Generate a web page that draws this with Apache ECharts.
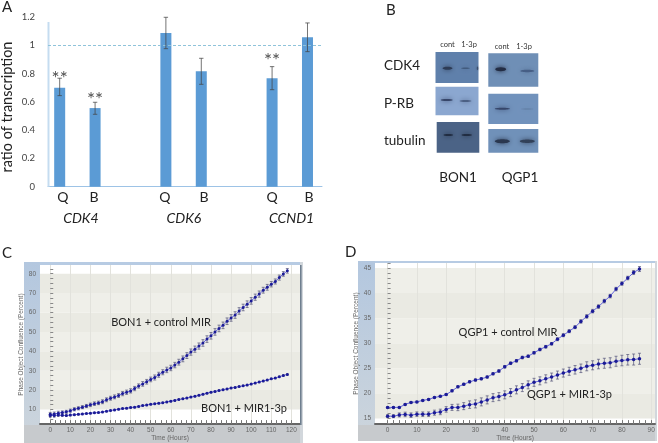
<!DOCTYPE html>
<html><head><meta charset="utf-8">
<style>html,body{margin:0;padding:0;background:#fff}#c{width:658px;height:443px}</style>
<script src="https://cdn.jsdelivr.net/npm/echarts@6/dist/echarts.min.js"></script>
</head><body><div id="c"></div>
<script>
// Panel A data
const slotsA = [0, 1, 3, 4, 6, 7];
const ratioA = [0.70, 0.556, 1.087, 0.816, 0.767, 1.056];
const lowA = [0.644, 0.512, 0.976, 0.724, 0.686, 0.955];
const highA = [0.767, 0.597, 1.198, 0.908, 0.849, 1.158];
const cellLabels = ['Q', 'B', 'Q', 'B', 'Q', 'B'];
const cellLabelSlots = [0.09, 0.97, 2.97, 4.08, 6, 7.04];
const geneLabels = ['CDK4', 'CDK6', 'CCND1'];
const geneSlots = [0.6, 3.51, 6.55];
const starSlots = [0, 1, 6];
const starLevels = [0.79, 0.644, 0.92];
const ticksA = [0, 0.2, 0.4, 0.6, 0.8, 1, 1.2];

// Panel C data (every 2 h, 0..118)
const bonControl = [7.5,7.7,8.1,8.5,8.8,9.4,10.1,10.6,11.2,11.8,12.4,13,13.4,14,15,15.8,16.5,17.2,18.2,18.9,19.6,20.8,22.1,23.2,24.3,25.5,26.5,27.9,29.2,30.4,31.4,32.9,34.4,36.1,37.8,39.6,41.1,42.7,44.3,46.3,48,50,51.8,53.4,55.5,57.2,58.7,60.8,62.6,64.3,66,67.9,69.5,71.5,73,74.6,76,78,79.9,81.5];
const bonControlErr = [1,1,1,0.8,0.8,0.8,0.8,0.8,0.8,0.8,0.9,0.9,0.9,1,1,1,1,1,1.1,1.1,1.1,1.1,1.1,1.2,1.2,1.2,1.3,1.3,1.3,1.4,1.4,1.4,1.5,1.5,1.5,1.6,1.6,1.6,1.7,1.7,1.7,1.7,1.7,1.7,1.7,1.7,1.7,1.7,1.7,1.7,1.7,1.6,1.6,1.5,1.5,1.4,1.3,1.3,1.2,1.2];
const bonMir = [6.9,6.9,7.1,7.0,6.9,7.1,7.3,7.5,7.7,7.9,8.1,8.3,8.4,8.7,9.1,9.5,9.8,10.1,10.5,10.7,11,11.2,11.6,12,12.3,12.7,12.9,13.2,13.5,13.9,14.3,14.7,15.2,15.5,15.9,16.4,16.8,17.3,17.8,18.4,18.9,19.3,19.8,20.2,20.6,21.1,21.4,21.8,22.2,22.6,23.1,23.6,24.2,24.7,25.2,25.8,26.2,26.9,27.5,28.1];
const bonMirErr = [1,0.9,0.7,0.5,0.4,0.4,0.4,0.4,0.3,0.3,0.3,0.3,0.3,0.3,0.3,0.3,0.3,0.3,0.3,0.3,0.3,0.3,0.3,0.3,0.3,0.3,0.3,0.3,0.3,0.3,0.3,0.3,0.3,0.3,0.3,0.3,0.3,0.3,0.3,0.3,0.3,0.3,0.3,0.3,0.3,0.3,0.3,0.3,0.3,0.3,0.3,0.3,0.3,0.3,0.3,0.3,0.3,0.3,0.4,0.4];

// Panel D data (every 2 h, 0..86)
const qgpControl = [17.2,17.2,17.2,17.8,18.2,18.3,18.6,18.8,19.2,19.4,19.75,20.5,21.3,21.8,22.3,22.65,22.9,23.25,23.9,24.45,25.3,26.0,26.5,27.15,27.4,28.1,28.75,29.3,29.9,30.8,31.6,32.4,33.2,34.35,35.35,36.4,37.3,38.4,39.4,40.8,41.9,43.0,44.1,44.8];
const qgpControlErr = [0.15,0.15,0.15,0.15,0.15,0.15,0.15,0.15,0.15,0.15,0.15,0.2,0.2,0.2,0.2,0.2,0.2,0.2,0.2,0.25,0.25,0.25,0.25,0.25,0.25,0.25,0.25,0.25,0.25,0.3,0.3,0.3,0.3,0.35,0.35,0.35,0.35,0.35,0.35,0.35,0.35,0.35,0.4,0.5];
const qgpMir = [15.45,15.45,15.7,15.8,15.65,15.85,15.85,15.85,16.15,16.3,16.8,17.2,17.2,17.45,17.75,17.9,18.3,18.7,19.15,19.35,19.7,20.15,20.7,21.15,21.7,22.2,22.5,22.9,23.25,23.65,24.05,24.4,24.7,25.0,25.4,25.6,25.85,26,26.1,26.4,26.55,26.7,26.75,26.9];
const qgpMirErr = [0.3,0.3,0.4,0.45,0.45,0.45,0.45,0.45,0.5,0.55,0.55,0.6,0.65,0.7,0.75,0.8,0.8,0.8,0.8,0.8,0.8,0.8,0.8,0.8,0.8,0.8,0.8,0.8,0.8,0.8,0.8,0.8,0.85,0.85,0.9,0.9,0.95,1,1,1,1.05,1.05,1.1,1.1];

const ticksCx = [0,10,20,30,40,50,60,70,80,90,100,110,120];
const ticksCy = [10,20,30,40,50,60,70,80];
const ticksDx = [0,10,20,30,40,50,60,70,80,90];
const ticksDy = [15,20,25,30,35,40,45];

const stepTicks = (from, to, step) => { const r = []; for (let v = from; v <= to + 1e-9; v += step) r.push(v); return r; };
const pts = (vals) => vals.map((v, i) => [i * 2, v]);
const errs = (vals, e) => vals.map((v, i) => [i * 2, v - e[i], v + e[i]]);

const BODY = 'Lato, "Open Sans", sans-serif';
const SMALL = 'Liberation Sans';

function errorSeries(xi, yi, data, color, cap, lw, z) {
  return {
    type: 'custom', xAxisIndex: xi, yAxisIndex: yi, data, z: z || 3, silent: true,
    encode: { x: 0, y: [1, 2] },
    clip: false,
    renderItem(params, api) {
      const a = api.coord([api.value(0), api.value(1)]);
      const b = api.coord([api.value(0), api.value(2)]);
      const st = { stroke: color, lineWidth: lw, fill: null };
      return { type: 'group', children: [
        { type: 'line', shape: { x1: a[0], y1: a[1], x2: b[0], y2: b[1] }, style: st },
        { type: 'line', shape: { x1: a[0] - cap, y1: a[1], x2: a[0] + cap, y2: a[1] }, style: st },
        { type: 'line', shape: { x1: b[0] - cap, y1: b[1], x2: b[0] + cap, y2: b[1] }, style: st }
      ] };
    }
  };
}
function lineSeries(xi, yi, data, size) {
  return { type: 'line', xAxisIndex: xi, yAxisIndex: yi, data, z: 4, symbol: 'circle', symbolSize: size,
    showSymbol: true, lineStyle: { color: '#6464dc', width: 1 }, itemStyle: { color: '#1b1b96' }, silent: true };
}
function minorX(grid, min, max, ticks) {
  return { gridIndex: grid, type: 'value', position: 'bottom', min, max, axisLine: { show: false }, splitLine: { show: false }, axisLabel: { show: false },
    axisTick: { show: true, inside: true, length: 4, customValues: ticks, lineStyle: { color: '#777', width: 1 } } };
}
function minorY(grid, min, max, ticks) {
  return { gridIndex: grid, type: 'value', position: 'left', min, max, axisLine: { show: false }, splitLine: { show: false }, axisLabel: { show: false },
    axisTick: { show: true, inside: true, length: 3, customValues: ticks, lineStyle: { color: '#888', width: 1 } } };
}
function majorX(grid, min, max, ticks, name, gap) {
  return { gridIndex: grid, type: 'value', position: 'bottom', min, max, name, nameLocation: 'middle', nameGap: gap,
    nameTextStyle: { fontSize: 6.5, color: '#666', fontFamily: SMALL },
    axisLine: { show: true, lineStyle: { color: '#666', width: 2 } },
    axisTick: { show: false, customValues: ticks },
    axisLabel: { customValues: ticks, fontSize: 6.5, color: '#666', margin: 3, fontFamily: SMALL },
    splitLine: { show: true, lineStyle: { color: '#e2e2dc', width: 1 } } };
}
function majorY(grid, min, max, ticks, name, gap, colors) {
  return { gridIndex: grid, type: 'value', position: 'left', min, max, name, nameLocation: 'middle', nameGap: gap,
    nameTextStyle: { fontSize: 6.5, color: '#666', fontFamily: SMALL },
    axisLine: { show: false }, axisTick: { show: false, customValues: ticks },
    axisLabel: { customValues: ticks, fontSize: 6.5, color: '#666', margin: 4, fontFamily: SMALL },
    splitLine: { show: false },
    splitArea: { show: true, areaStyle: { color: colors } } };
}

function frame(x0, x1, y0, y1, px0, px1, py0, py1) {
  const blue = { type: 'linear', x: 0, y: 0, x2: 0, y2: 1, colorStops: [{ offset: 0, color: '#b3c7df' }, { offset: 1, color: '#cdd5dc' }] };
  return [
    { type: 'rect', z: -5, shape: { x: x0, y: y0, width: x1 - x0, height: py0 - y0 }, style: { fill: '#b7cbe3' } },
    { type: 'rect', z: -5, shape: { x: x0, y: y0, width: px0 - x0, height: y1 - y0 }, style: { fill: blue } },
    { type: 'rect', z: -5, shape: { x: x0, y: py1, width: x1 - x0, height: y1 - py1 }, style: { fill: '#c7cacd' } },
    { type: 'rect', z: -5, shape: { x: px1, y: y0, width: x1 - px1, height: y1 - y0 }, style: { fill: '#d2d7dc' } }
  ];
}
function txt(text, x, y, font, fill, align, rot) {
  return { type: 'text', z: 10, x, y, rotation: rot || 0, silent: true,
    style: { text, font, fill: fill || '#222', textAlign: align || 'left', textVerticalAlign: 'middle' } };
}
function blot(x, y, w, h, color) {
  return { type: 'rect', z: 1, shape: { x, y, width: w, height: h }, style: { fill: color } };
}
function band(cx, cy, rx, ry, color, blur) {
  return { type: 'ellipse', z: 2, shape: { cx, cy, rx, ry }, style: { fill: color, shadowBlur: blur || 5, shadowColor: color } };
}
const blotGraphics = [
  blot(435.5, 52, 43, 31, '#5f80ab'),
  band(447.5, 68.3, 5, 1.5, '#2d3b55'), band(465.5, 68.3, 4.5, 0.8, 'rgba(55,78,110,.7)'), band(477.5, 68.3, .6, 1.8, '#3b4d6b', 2),
  blot(435.5, 86.7, 43, 28.5, '#8ba7d0'),
  band(446.7, 100, 6, 1, '#37466a'), band(465.5, 101, 6, .8, '#3d4f72'),
  blot(436.7, 122, 42.6, 30.7, '#4b6386'),
  band(448.3, 135, 4.8, 1, '#212d42'), band(466.7, 135, 5.2, 1, '#212d42'),
  blot(488.3, 53.3, 50, 33.4, '#6f8fb6'),
  band(500.7, 69.3, 5.5, 2, '#232d44'), band(527.3, 71, 7, 1.2, 'rgba(60,82,120,.75)'),
  blot(488.3, 93.7, 50, 30.3, '#7192bc'),
  band(502.3, 108.7, 7.5, 1, '#36466a'), band(527.3, 109, 6, .5, 'rgba(85,110,145,.6)'),
  blot(488.3, 129, 50, 23.7, '#7091b9'),
  band(502.3, 141.3, 7.5, 2, '#2a374f'), band(527.3, 141.3, 7.5, 1.7, '#324159')
];

const option = {
  animation: false,
  backgroundColor: '#fff',
  grid: [
    { left: 48, top: 17, width: 274, height: 169.7 },
    { left: 40, top: 265, width: 260, height: 160, show: false },
    { left: 375, top: 263, width: 280, height: 162, show: false }
  ],
  xAxis: [
    { gridIndex: 0, type: 'value', position: 'bottom', min: -0.33, max: 7.41,
      axisLine: { show: true, onZero: false, lineStyle: { color: '#9dc3e6', width: 1 } }, axisTick: { show: false, customValues: cellLabelSlots },
      splitLine: { show: false },
      axisLabel: { customValues: cellLabelSlots, margin: 4, fontSize: 14, color: '#222', fontFamily: BODY, formatter: v => cellLabels[cellLabelSlots.indexOf(v)] } },
    { gridIndex: 0, type: 'value', min: -0.33, max: 7.41, position: 'bottom', offset: 22,
      axisLine: { show: false }, axisTick: { show: false, customValues: geneSlots }, splitLine: { show: false },
      axisLabel: { customValues: geneSlots, margin: 3, fontSize: 14, fontStyle: 'italic', color: '#222', fontFamily: BODY, formatter: v => geneLabels[geneSlots.indexOf(v)] } },
    majorX(1, -5.1, 124.3, ticksCx, 'Time (Hours)', 9),
    minorX(1, -5.1, 124.3, stepTicks(0, 120, 2.5)),
    majorX(2, -4.3, 91.3, ticksDx, 'Time (Hours)', 10),
    minorX(2, -4.3, 91.3, stepTicks(0, 90, 2))
  ],
  yAxis: [
    { gridIndex: 0, type: 'value', min: 0, max: 1.2,
      axisLine: { show: false }, axisTick: { show: false, customValues: ticksA }, splitLine: { show: false },
      axisLabel: { customValues: ticksA, margin: 13, fontSize: 9.5, color: '#444', fontFamily: BODY } },
    majorY(1, 2.47, 84.5, ticksCy, 'Phase Object Confluence (Percent)', 5, ['#eaeae3', '#efefe9']),
    minorY(1, 2.47, 84.5, stepTicks(5, 82.5, 2.5)),
    majorY(2, 13.87, 46, ticksDy, 'Phase Object Confluence (Percent)', 4, ['#eaeae3', '#efefe9']),
    minorY(2, 13.87, 46, stepTicks(14, 46, 1))
  ],
  series: [
    { type: 'bar', xAxisIndex: 0, yAxisIndex: 0, barWidth: 11, z: 2, silent: true,
      itemStyle: { color: '#5b9bd5' },
      data: slotsA.map((s, i) => [s, ratioA[i]]),
      markLine: { silent: true, symbol: 'none', label: { show: false }, animation: false,
        lineStyle: { color: '#8fc3da', type: [3, 2], width: 1 }, data: [{ yAxis: 1 }] } },
    errorSeries(0, 0, slotsA.map((s, i) => [s, lowA[i], highA[i]]), 'rgba(70,70,70,.75)', 2.2, 1, 5),
    { type: 'scatter', xAxisIndex: 0, yAxisIndex: 0, symbolSize: 0, z: 6, silent: true,
      data: starSlots.map((s, i) => [s, starLevels[i]]),
      label: { show: true, position: 'inside', formatter: '**', fontSize: 19, color: '#222', fontFamily: BODY, offset: [0, 4] } },

    errorSeries(2, 1, errs(bonControl, bonControlErr), '#55557a', 1.5, 0.7),
    errorSeries(2, 1, errs(bonMir, bonMirErr), '#55557a', 1.2, 0.7),
    lineSeries(2, 1, pts(bonControl), 3),
    lineSeries(2, 1, pts(bonMir), 3),

    errorSeries(4, 3, errs(qgpControl, qgpControlErr), '#55557a', 1.5, 0.7),
    errorSeries(4, 3, errs(qgpMir, qgpMirErr), '#55557a', 1.5, 0.7),
    lineSeries(4, 3, pts(qgpControl), 3.5),
    lineSeries(4, 3, pts(qgpMir), 3.5)
  ],
  graphic: [
    ...frame(24, 303, 262, 443, 40, 300, 265, 425),
    ...frame(358, 657, 261, 441, 375, 655, 263, 425),
    { type: 'rect', z: 1, shape: { x: 300, y: 265, width: 1.6, height: 160 }, style: { fill: '#6f7f8f' } },
    { type: 'rect', z: 1, shape: { x: 47.5, y: 22, width: 2, height: 164.7 }, style: { fill: '#c5dcf0' } },
    ...blotGraphics,
    txt('A', 2, 7, '15px ' + BODY),
    txt('B', 386, 10, '15px ' + BODY),
    txt('C', 2, 253, '15px ' + BODY),
    txt('D', 345, 252, '15px ' + BODY),
    txt('ratio of transcription', 7, 107, '14.5px ' + BODY, '#222', 'center', Math.PI / 2),
    txt('cont', 447.5, 44.5, '7.5px ' + BODY, '#333', 'center'),
    txt('1-3p', 469, 44.5, '7.5px ' + BODY, '#333', 'center'),
    txt('cont', 502, 46.5, '7.5px ' + BODY, '#333', 'center'),
    txt('1-3p', 524, 46.5, '7.5px ' + BODY, '#333', 'center'),
    txt('CDK4', 384, 66, '13.5px ' + BODY),
    txt('P-RB', 384, 104, '13.5px ' + BODY),
    txt('tubulin', 384, 141, '13.5px ' + BODY),
    txt('BON1', 458, 178, '13.5px ' + BODY, '#222', 'center'),
    txt('QGP1', 520, 178, '13.5px ' + BODY, '#222', 'center'),
    txt('BON1 + control MIR', 161, 322, '11px ' + BODY, '#222', 'center'),
    txt('BON1 + MIR1-3p', 244, 408, '11px ' + BODY, '#222', 'center'),
    txt('QGP1 + control MIR', 508, 332, '11px ' + BODY, '#222', 'center'),
    txt('QGP1 + MIR1-3p', 569.5, 394, '11px ' + BODY, '#222', 'center')
  ]
};
const chart = echarts.init(document.getElementById('c'), null, { renderer: 'canvas', width: 658, height: 443 });
chart.setOption(option);
</script></body></html>
